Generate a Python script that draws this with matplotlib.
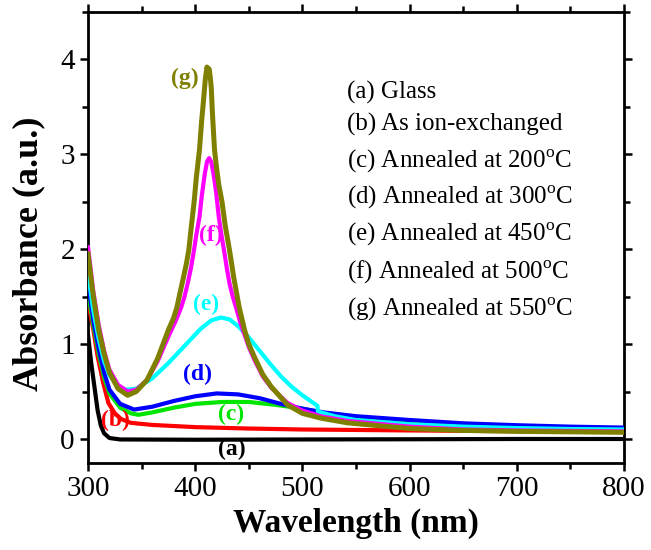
import matplotlib
matplotlib.use('Agg')
import matplotlib.pyplot as plt
from matplotlib.ticker import MultipleLocator

plt.rcParams['font.family'] = ['Liberation Serif', 'DejaVu Serif']
plt.rcParams['mathtext.fontset'] = 'custom'
plt.rcParams['mathtext.rm'] = 'Liberation Serif'

# (a) Glass
wl_a = [300, 303, 306, 309, 312, 315, 320, 330, 400, 500, 600, 700, 800]
abs_a = [1.10, 0.80, 0.55, 0.30, 0.14, 0.06, 0.01, -0.005, -0.008, -0.005, -0.003, 0.0, 0.0]

# (b) As ion-exchanged
wl_b = [300, 305, 309, 314, 319, 325, 331, 340, 360, 400, 450, 500, 600, 700, 800]
abs_b = [1.45, 1.15, 0.87, 0.60, 0.38, 0.27, 0.21, 0.17, 0.148, 0.125, 0.11, 0.10, 0.09, 0.082, 0.077]

# (c) 200 C
wl_c = [300, 305, 310, 315, 320, 330, 340, 347, 360, 380, 400, 425, 450, 475, 500, 520, 550, 600, 650, 700, 750, 800]
abs_c = [1.55, 1.20, 0.90, 0.65, 0.48, 0.33, 0.27, 0.255, 0.28, 0.33, 0.37, 0.39, 0.39, 0.36, 0.32, 0.27, 0.22, 0.17, 0.14, 0.12, 0.105, 0.095]

# (d) 300 C
wl_d = [300, 305, 310, 315, 320, 330, 343, 360, 380, 400, 420, 440, 460, 480, 500, 520, 550, 600, 650, 700, 750, 800]
abs_d = [1.65, 1.25, 0.95, 0.70, 0.52, 0.37, 0.31, 0.34, 0.40, 0.45, 0.48, 0.47, 0.43, 0.37, 0.32, 0.28, 0.24, 0.20, 0.165, 0.145, 0.13, 0.12]

# (e) 450 C
wl_e = [300, 305, 310, 315, 320, 328, 335, 345, 360, 375, 390, 405, 415, 424, 432, 440, 450, 460, 470, 480, 490, 500, 514, 514.5, 530, 550, 600, 650, 700, 750, 800]
abs_e = [1.75, 1.35, 1.05, 0.82, 0.67, 0.56, 0.52, 0.53, 0.64, 0.80, 0.98, 1.16, 1.25, 1.28, 1.26, 1.19, 1.07, 0.93, 0.79, 0.66, 0.55, 0.46, 0.35, 0.29, 0.24, 0.20, 0.155, 0.13, 0.115, 0.105, 0.10]

# (f) 500 C
wl_f = [300, 305, 310, 315, 320, 328, 337, 345, 355, 365, 375, 382, 387, 390, 393, 396, 399, 401, 404, 406, 409, 411, 413, 415, 417, 419.5, 422, 424.5, 427, 429.5, 432, 435, 438, 442, 446, 450, 455, 463, 471, 486, 500, 517, 542, 600, 650, 700, 750, 800]
abs_f = [2.02, 1.55, 1.20, 0.93, 0.73, 0.57, 0.50, 0.52, 0.62, 0.82, 1.08, 1.25, 1.39, 1.50, 1.64, 1.80, 2.00, 2.15, 2.34, 2.55, 2.80, 2.92, 2.96, 2.92, 2.80, 2.60, 2.34, 2.15, 1.98, 1.80, 1.64, 1.50, 1.39, 1.23, 1.10, 0.97, 0.84, 0.66, 0.54, 0.38, 0.30, 0.24, 0.19, 0.13, 0.10, 0.09, 0.085, 0.08]

# (g) 550 C
wl_g = [300, 305, 310, 315, 320, 328, 337, 345, 355, 365, 375, 380, 383, 386, 389, 392, 394, 396, 399, 401, 404, 406, 408, 409.5, 411, 412, 413, 414, 415, 416, 418, 420, 422, 425, 428, 432, 436, 441, 446, 450, 455, 463, 471, 486, 500, 517, 542, 600, 650, 700, 750, 800]
abs_g = [1.95, 1.50, 1.15, 0.90, 0.70, 0.53, 0.46, 0.50, 0.62, 0.85, 1.15, 1.28, 1.39, 1.55, 1.70, 1.86, 1.99, 2.20, 2.50, 2.75, 3.05, 3.35, 3.60, 3.80, 3.92, 3.88, 3.90, 3.82, 3.70, 3.45, 3.05, 2.85, 2.68, 2.50, 2.25, 1.99, 1.70, 1.39, 1.15, 1.00, 0.87, 0.68, 0.55, 0.36, 0.27, 0.22, 0.17, 0.11, 0.09, 0.08, 0.075, 0.07]

tags = ['(a)', '(b)', '(c)', '(d)', '(e)', '(f)', '(g)']
legend_text = ['(a) Glass', '(b) As ion-exchanged',
               '(c) Annealed at 200$^{\\rm o}$C', '(d) Annealed at 300$^{\\rm o}$C',
               '(e) Annealed at 450$^{\\rm o}$C', '(f) Annealed at 500$^{\\rm o}$C',
               '(g) Annealed at 550$^{\\rm o}$C']
colors = ['#000000', '#ff0000', '#00e600', '#0000ff', '#00ffff', '#ff00ff', '#808000']

curves = [(wl_a, abs_a), (wl_b, abs_b), (wl_c, abs_c), (wl_d, abs_d),
          (wl_e, abs_e), (wl_f, abs_f), (wl_g, abs_g)]
tag_pos = [(434, -0.11), (326, 0.20), (433, 0.26), (402, 0.68),
           (410, 1.42), (414.5, 2.15), (390, 3.80)]
legend_y = [3.65, 3.31, 2.92, 2.54, 2.15, 1.75, 1.36]

fig = plt.figure(figsize=(6.51, 5.5), dpi=100)
ax = fig.add_axes([88 / 651, 1 - 462.7 / 550, (624 - 88) / 651, (462.7 - 12) / 550])

for i, (x, y) in enumerate(curves):
    lw = 3.6 if i == 6 else 3.0
    ax.plot(x, y, color=colors[i], lw=lw, solid_joinstyle='round', zorder=2 + i)
    ax.text(tag_pos[i][0], tag_pos[i][1], tags[i], color=colors[i], fontsize=17,
            fontweight='bold', ha='center', va='center', zorder=10)

for i, t in enumerate(legend_text):
    ax.text(542, legend_y[i], t, fontsize=18, ha='left', va='center')

ax.set_xlim(300, 800)
ax.set_ylim(-0.25, 4.5)
ax.xaxis.set_major_locator(MultipleLocator(100))
ax.xaxis.set_minor_locator(MultipleLocator(50))
ax.yaxis.set_major_locator(MultipleLocator(1))
ax.yaxis.set_minor_locator(MultipleLocator(0.5))
ax.tick_params(which='both', direction='out', width=1.8, labelsize=21, top=True, right=True)
ax.tick_params(which='major', length=6)
ax.tick_params(which='minor', length=4)
for s in ax.spines.values():
    s.set_linewidth(2.0)

ax.set_xlabel('Wavelength (nm)', fontsize=24, fontweight='bold')
ax.set_ylabel('Absorbance (a.u.)', fontsize=26, fontweight='bold')
ax.yaxis.set_label_coords(-0.08, 0.463)

fig.savefig('out.png', dpi=100)
